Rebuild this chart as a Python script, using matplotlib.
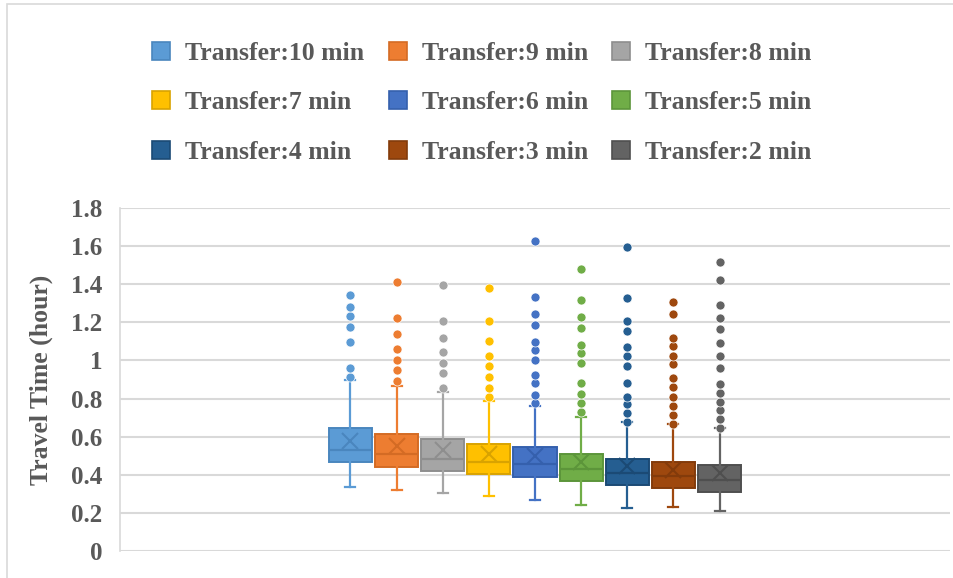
import matplotlib
matplotlib.use('Agg')
import matplotlib.pyplot as plt
from matplotlib.patches import Rectangle, Patch

plt.rcParams['font.family'] = ['Liberation Serif', 'DejaVu Serif']

# series (transfer time) and colours, Excel default palette
labels = ['Transfer:10 min', 'Transfer:9 min', 'Transfer:8 min',
          'Transfer:7 min', 'Transfer:6 min', 'Transfer:5 min',
          'Transfer:4 min', 'Transfer:3 min', 'Transfer:2 min']
colors = ['#5B9BD5', '#ED7D31', '#A5A5A5', '#FFC000', '#4472C4',
          '#70AD47', '#255E91', '#9E480E', '#636363']
edges = ['#4A86BE', '#D46B24', '#8E8E8E', '#D9A300', '#3560AD',
         '#5C953A', '#1B4A75', '#833B0B', '#4F4F4F']

# box statistics (hours)
q1 = [0.466, 0.440, 0.419, 0.402, 0.390, 0.365, 0.346, 0.327, 0.311]
median = [0.532, 0.506, 0.483, 0.468, 0.457, 0.431, 0.410, 0.391, 0.374]
q3 = [0.645, 0.616, 0.589, 0.562, 0.543, 0.508, 0.482, 0.464, 0.449]
mean = [0.575, 0.549, 0.529, 0.506, 0.497, 0.468, 0.445, 0.424, 0.410]
whis_lo = [0.335, 0.318, 0.301, 0.285, 0.266, 0.242, 0.226, 0.228, 0.209]
whis_hi = [0.900, 0.866, 0.836, 0.789, 0.762, 0.703, 0.676, 0.668, 0.645]
outliers = [
    [0.911, 0.961, 1.095, 1.175, 1.236, 1.282, 1.342],
    [0.890, 0.951, 1.003, 1.059, 1.137, 1.221, 1.412],
    [0.854, 0.934, 0.988, 1.043, 1.120, 1.205, 1.396],
    [0.810, 0.857, 0.915, 0.970, 1.022, 1.102, 1.205, 1.379],
    [0.779, 0.819, 0.880, 0.925, 1.005, 1.057, 1.099, 1.188, 1.243, 1.332, 1.628],
    [0.727, 0.776, 0.826, 0.880, 0.986, 1.040, 1.083, 1.172, 1.226, 1.316, 1.480],
    [0.676, 0.725, 0.769, 0.810, 0.880, 0.970, 1.024, 1.069, 1.154, 1.210, 1.329, 1.596],
    [0.668, 0.716, 0.763, 0.810, 0.862, 0.906, 0.979, 1.022, 1.075, 1.120, 1.242, 1.308],
    [0.645, 0.692, 0.739, 0.784, 0.831, 0.878, 0.963, 1.021, 1.092, 1.163, 1.224,
     1.292, 1.422, 1.516],
]
y_ticks = [0, 0.2, 0.4, 0.6, 0.8, 1, 1.2, 1.4, 1.6, 1.8]
y_ticklabels = ['0', '0.2', '0.4', '0.6', '0.8', '1', '1.2', '1.4', '1.6', '1.8']

grey = '#595959'
fig = plt.figure(figsize=(9.54, 5.78), dpi=100)
# chart border (runs off the right/bottom of the picture)
fig.patches.append(Rectangle((7 / 954, -0.5), 2, 1.5 - 4 / 578, transform=fig.transFigure,
                             fill=False, edgecolor='#D9D9D9', linewidth=1.2))
ax = fig.add_axes([120 / 954, 1 - 550.7 / 578, 830 / 954, 342.4 / 578])

n = len(labels)
step = 0.0556
for i in range(n):
    st = dict(med=median[i], q1=q1[i], q3=q3[i], whislo=whis_lo[i], whishi=whis_hi[i],
              mean=mean[i], fliers=outliers[i])
    pos = 0.5 + (i - (n - 1) / 2) * step
    ax.bxp([st], positions=[pos], widths=0.052, capwidths=0.012, patch_artist=True,
           showmeans=True, showfliers=True,
           boxprops=dict(facecolor=colors[i], edgecolor=edges[i], linewidth=1.4),
           medianprops=dict(color=edges[i], linewidth=1.6),
           whiskerprops=dict(color=colors[i], linewidth=1.6),
           capprops=dict(color=colors[i], linewidth=1.6),
           meanprops=dict(marker='x', markersize=12, markeredgecolor=edges[i],
                          markeredgewidth=1.5),
           flierprops=dict(marker='o', markersize=6.5, markerfacecolor=colors[i],
                           markeredgecolor='white', markeredgewidth=0.5))

ax.set_xlim(0, 1)
ax.set_ylim(0, 1.8)
ax.set_xticks([])
ax.set_yticks(y_ticks)
ax.set_yticklabels(y_ticklabels, fontsize=18, fontweight='bold', color=grey)
ax.tick_params(axis='y', length=0, pad=12.5)
ax.grid(axis='y', color='#D9D9D9', linewidth=1.5)
ax.set_axisbelow(True)
for side in ['top', 'right', 'bottom']:
    ax.spines[side].set_visible(False)
ax.spines['left'].set_color('#D9D9D9')
ax.spines['left'].set_linewidth(1.2)
ax.set_ylabel('Travel Time (hour)', fontsize=18.5, fontweight='bold', color=grey, labelpad=13)

# legend filled row by row like Excel
handles = [Patch(facecolor=colors[i], edgecolor=edges[i], linewidth=1.2) for i in range(n)]
order = [0, 3, 6, 1, 4, 7, 2, 5, 8]
leg = fig.legend([handles[k] for k in order], [labels[k] for k in order],
                 loc='upper center', bbox_to_anchor=(482 / 954, 1 - 19 / 578), ncol=3,
                 frameon=False, prop=dict(size=18.5, weight='bold'),
                 handlelength=0.7, handleheight=0.7, handletextpad=0.58,
                 columnspacing=0.95, labelspacing=1.02)
for t in leg.get_texts():
    t.set_color(grey)

fig.savefig('out.png', dpi=100)
